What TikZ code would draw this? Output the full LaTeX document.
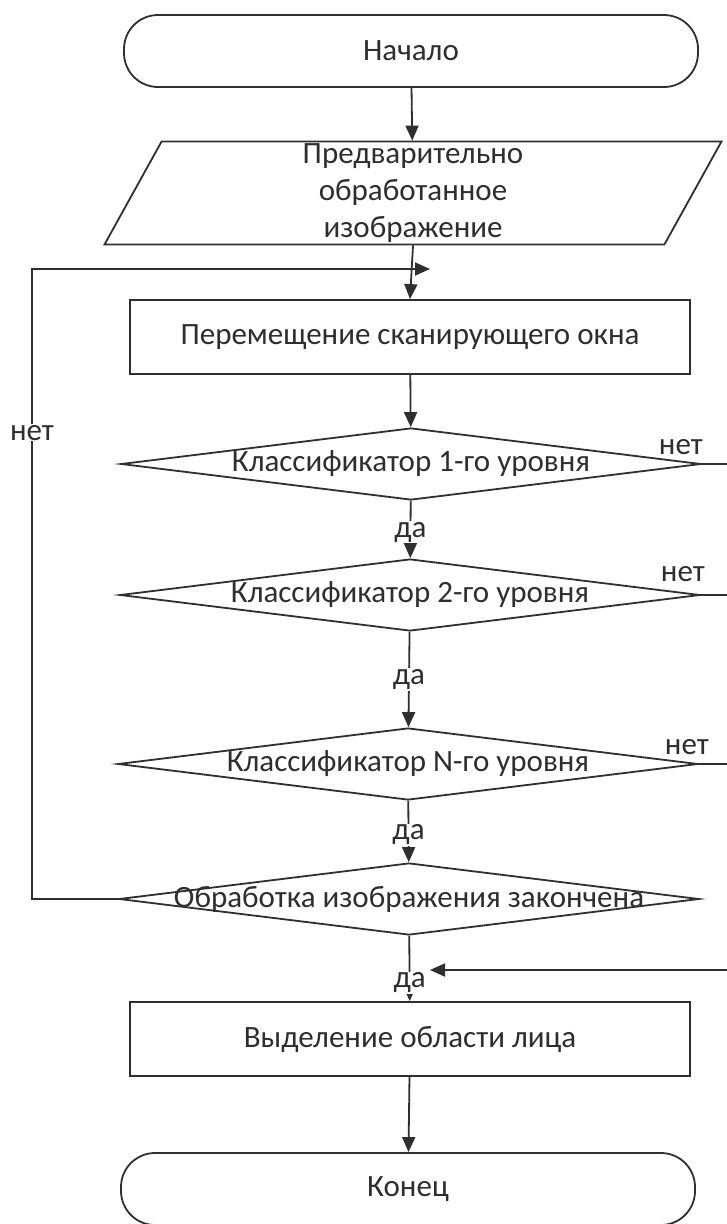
\documentclass[tikz,border=0pt]{standalone}
\usepackage{fontspec}
\setmainfont{Carlito}
\usetikzlibrary{arrows.meta,shapes.geometric}
\definecolor{ink}{HTML}{2E2E2E}
\definecolor{edge}{HTML}{2F2F2F}
\begin{document}
\begin{tikzpicture}[x=1pt,y=-1pt,
  every node/.style={text=ink, font=\fontsize{31}{37}\selectfont},
  shape line/.style={draw=edge, line width=1.8pt, fill=white},
  box/.style={shape line, rectangle, minimum width=560pt, minimum height=74pt, inner sep=0pt},
  term/.style={shape line, rectangle, rounded corners=34pt, minimum width=574pt, minimum height=72pt, inner sep=0pt},
  io/.style={shape line, trapezium, trapezium left angle=60, trapezium right angle=120,
    trapezium stretches body=true, minimum width=617pt, minimum height=103pt, align=center, inner sep=0pt},
  decision/.style={shape line, diamond, minimum width=580pt, minimum height=72pt, inner sep=0pt},
  flow/.style={draw=edge, line width=1.8pt, -{Triangle[length=15pt,width=13pt]}},
  plain/.style={draw=edge, line width=1.8pt},
  tag/.style={fill=white, inner sep=1pt}]
\useasboundingbox (0,0) rectangle (727,1224);

% main column
\node[term] (start) at (411,51) {Начало};
\node[io] (input) at (413,193) {Предварительно\\обработанное\\изображение};
\node[box] (move) at (410,337) {Перемещение сканирующего окна};
\node[decision] (d1) at (411,464) {\makebox[0pt]{Классификатор 1-го уровня}};
\node[decision] (d2) at (410,595) {\makebox[0pt]{Классификатор 2-го уровня}};
\node[decision] (d3) at (408,764) {\makebox[0pt]{Классификатор N-го уровня}};
\node[decision] (d4) at (409,899) {\makebox[0pt]{Обработка изображения закончена}};
\node[box] (face) at (410,1039) {Выделение области лица};
\node[term] (stop) at (408,1189) {Конец};

% helper points
\coordinate (r1) at (727,464);
\coordinate (r2) at (727,595);
\coordinate (r3) at (727,764);
\coordinate (r4) at (727,970);
\coordinate (back) at (430,970);
\coordinate (l1) at (32,899);
\coordinate (l2) at (32,269);
\coordinate (loopin) at (430,269);

% vertical flow
\draw[flow] (start) -- (input);
\draw[flow] (input.south) -- (move.north);
\draw[flow] (move) -- (d1);
\draw[flow] (d1) -- node[tag, pos=0.55]{да} (d2);
\draw[flow] (d2) -- node[tag]{да} (d3);
\draw[flow] (d3) -- node[tag, pos=0.55]{да} (d4);
\draw[flow] (d4) -- node[tag, pos=0.72]{да} (face);
\draw[flow] (face) -- (stop);

% "нет" exits on the right
\draw[plain] (d1.east) -- (r1);
\draw[plain] (d2.east) -- (r2);
\draw[plain] (d3.east) -- (r3);
\node (n1) at ([shift={(-21,-17)}]d1.east) {нет};
\node (n2) at ([shift={(-18,-21)}]d2.east) {нет};
\node (n3) at ([shift={(-12,-17)}]d3.east) {нет};
\draw[flow] (r4) -- (back);

% loop back to the scanning window
\draw[flow] (d4.west) -- (l1) -- node[tag, pos=0.74]{нет} (l2) -- (loopin);
\end{tikzpicture}
\end{document}
